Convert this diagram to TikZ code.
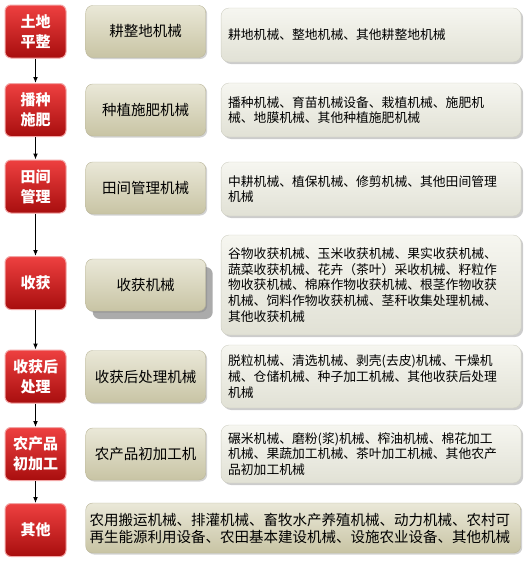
\documentclass[tikz,border=0pt]{standalone}
\usepackage{fontspec}
\setmainfont{Noto Sans CJK SC}
\usetikzlibrary{arrows.meta, positioning, shadows}

\definecolor{stagetop}{HTML}{EE4040}
\definecolor{stagemid}{HTML}{D91E1E}
\definecolor{stagebot}{HTML}{A80E0E}
\definecolor{stagerim}{HTML}{F2A5A5}
\definecolor{grptop}{HTML}{EAE8D8}
\definecolor{grpmid}{HTML}{D8D5BA}
\definecolor{grpbot}{HTML}{C8C4A4}
\definecolor{grprim}{HTML}{BAB69A}
\definecolor{itmtop}{HTML}{F6F6F0}
\definecolor{itmbot}{HTML}{E1E1D5}
\definecolor{itmrim}{HTML}{CFCFC3}

\begin{document}
\begin{tikzpicture}[x=1pt, y=-1pt,
  stage/.style={
    rounded corners=6pt,
    draw=stagerim,
    line width=1pt,
    top color=stagetop,
    middle color=stagemid,
    bottom color=stagebot,
    text=white,
    font=\fontsize{15}{20}\selectfont\bfseries,
    minimum width=61pt,
    minimum height=53pt,
    inner sep=0pt,
    align=center
  },
  group/.style={
    rounded corners=7pt,
    draw=grprim,
    top color=grptop,
    middle color=grpmid,
    bottom color=grpbot,
    font=\fontsize{14.5}{17}\selectfont,
    minimum width=120pt,
    minimum height=52pt,
    inner sep=0pt,
    align=center,
    drop shadow={shadow xshift=1.5pt, shadow yshift=-1.5pt, fill=black!35, opacity=0.5}
  },
  items/.style={
    rounded corners=8pt,
    draw=itmrim,
    top color=itmtop,
    bottom color=itmbot,
    font=\fontsize{12.8}{15.7}\selectfont,
    text width=286pt,
    inner xsep=7pt,
    inner ysep=4pt,
    minimum height=54pt,
    align=left,
    drop shadow={shadow xshift=2pt, shadow yshift=-2pt, fill=black!40, opacity=0.5}
  },
  line/.style={-{Latex[length=6pt, width=5pt]}, line width=1.5pt},
  node distance=19pt
  ]

\useasboundingbox (0,0) rectangle (527,562);

% Stages
\node[stage] (land) at (35.5,31.5) {土地\\平整};
\node[stage] (sow) at (35.5,110) {播种\\施肥};
\node[stage] (field) at (35.5,186.5) {田间\\管理};
\node[stage] (harvest) at (35.5,283) {收获};
\node[stage] (post) at (35.5,376.5) {收获后\\处理};
\node[stage] (proc) at (35.5,454) {农产品\\初加工};
\node[stage] (other) at (35.5,530) {其他};

% Machine groups
\node[group, right=19pt of land] (land_grp) {耕整地机械};
\node[group, right=19pt of sow] (sow_grp) {种植施肥机械};
\node[group, right=19pt of field, yshift=-1.5pt] (field_grp) {田间管理机械};
\node[group, right=19pt of harvest, yshift=-2pt,
  drop shadow={shadow xshift=7pt, shadow yshift=-8pt, fill=black!55, opacity=0.6}] (harvest_grp) {收获机械};
\node[group, right=19pt of post] (post_grp) {收获后处理机械};
\node[group, right=19pt of proc] (proc_grp) {农产品初加工机};

% Machine lists
\node[items, right=15pt of land_grp, yshift=-3.5pt] (land_itm) {耕地机械、整地机械、其他耕整地机械};
\node[items, right=15pt of sow_grp] (sow_itm) {播种机械、育苗机械设备、栽植机械、施肥机\\械、地膜机械、其他种植施肥机械};
\node[items, right=15pt of field_grp, yshift=-1pt] (field_itm) {中耕机械、植保机械、修剪机械、其他田间管理\\机械};
\node[items, right=15pt of harvest_grp, minimum height=100pt] (harvest_itm) {谷物收获机械、玉米收获机械、果实收获机械、\\蔬菜收获机械、花卉（茶叶）采收机械、籽粒作\\物收获机械、棉麻作物收获机械、根茎作物收获\\机械、饲料作物收获机械、茎秆收集处理机械、\\其他收获机械};
\node[items, right=15pt of post_grp, minimum height=63pt] (post_itm) {脱粒机械、清选机械、剥壳(去皮)机械、干燥机\\械、仓储机械、种子加工机械、其他收获后处理\\机械};
\node[items, right=15pt of proc_grp, minimum height=58pt] (proc_itm) {碾米机械、磨粉(浆)机械、榨油机械、棉花加工\\机械、果蔬加工机械、茶叶加工机械、其他农产\\品初加工机械};
\node[group, right=19pt of other, yshift=2pt, minimum width=435pt, minimum height=50pt,
  text width=427pt, align=left, inner xsep=4pt] (other_grp) {农用搬运机械、排灌机械、畜牧水产养殖机械、动力机械、农村可\\再生能源利用设备、农田基本建设机械、设施农业设备、其他机械};

% Arrows
\draw[line] (land) -- (sow);
\draw[line] (sow) -- (field);
\draw[line] (field) -- (harvest);
\draw[line] (harvest) -- (post);
\draw[line] (post) -- (proc);
\draw[line] (proc) -- (other);

\end{tikzpicture}
\end{document}
